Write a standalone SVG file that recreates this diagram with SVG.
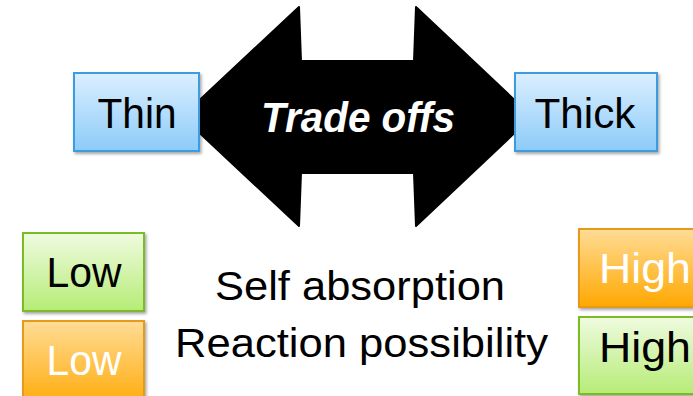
<svg xmlns="http://www.w3.org/2000/svg" width="693" height="396" viewBox="0 0 693 396">
<defs>
<linearGradient id="gBlue" x1="0" y1="0" x2="0" y2="1"><stop offset="0" stop-color="#dcefff"/><stop offset="1" stop-color="#8ccbf9"/></linearGradient>
<linearGradient id="gGreen" x1="0" y1="0" x2="0" y2="1"><stop offset="0" stop-color="#effbe0"/><stop offset="1" stop-color="#b6ec76"/></linearGradient>
<linearGradient id="gOrange" x1="0" y1="0" x2="0" y2="1"><stop offset="0" stop-color="#ffdc96"/><stop offset="1" stop-color="#ffa800"/></linearGradient>
<filter id="sh" x="-10%" y="-10%" width="130%" height="130%"><feDropShadow dx="1.5" dy="2" stdDeviation="1.5" flood-color="#000" flood-opacity="0.35"/></filter>
<style>
.txt{font-family:"Liberation Sans","Noto Sans",sans-serif;}
.blue{fill:url(#gBlue);stroke:#3c9be0;stroke-width:2;filter:url(#sh);}
.green{fill:url(#gGreen);stroke:#7dbb28;stroke-width:2;filter:url(#sh);}
.orange{fill:url(#gOrange);stroke:#e69a1e;stroke-width:2;filter:url(#sh);}
.lbl{font-size:43px;fill:#000;text-anchor:middle;}
.wlbl{font-size:43px;fill:#fff;text-anchor:middle;}
.mid{font-size:41px;fill:#000;text-anchor:middle;}
</style>
</defs>
<g id="connectors">
<path id="arrow" d="M182,116.5 L299,7 L301,61 L414,61 L416,7 L532,116.5 L416,226 L414,173 L301,173 L299,226 Z" fill="#000" stroke="#000" stroke-width="2" stroke-linejoin="round"/>
<text class="txt" x="358" y="132" font-size="42" font-weight="bold" font-style="italic" fill="#fff" text-anchor="middle" textLength="194" lengthAdjust="spacingAndGlyphs">Trade offs</text>
</g>
<g id="thin"><rect class="blue" x="74" y="73" width="125" height="78"/><text class="txt lbl" x="137" y="128" textLength="79" lengthAdjust="spacingAndGlyphs">Thin</text></g>
<g id="thick"><rect class="blue" x="515" y="73" width="142" height="78"/><text class="txt lbl" x="585" y="128" textLength="101" lengthAdjust="spacingAndGlyphs">Thick</text></g>
<g id="low1"><rect class="green" x="23" y="233" width="121" height="78"/><text class="txt lbl" x="84" y="287" textLength="75" lengthAdjust="spacingAndGlyphs">Low</text></g>
<g id="low2"><rect class="orange" x="23" y="321" width="121" height="90"/><text class="txt wlbl" x="84" y="375" textLength="75" lengthAdjust="spacingAndGlyphs">Low</text></g>
<g id="high1"><rect class="orange" x="579" y="229" width="130" height="78"/><text class="txt wlbl" x="599" y="283" style="text-anchor:start" textLength="92" lengthAdjust="spacingAndGlyphs">High</text></g>
<g id="high2"><rect class="green" x="579" y="317" width="130" height="77"/><text class="txt lbl" x="599" y="362" style="text-anchor:start" textLength="92" lengthAdjust="spacingAndGlyphs">High</text></g>
<g id="labels">
<text class="txt mid" x="360" y="300" textLength="290" lengthAdjust="spacingAndGlyphs">Self absorption</text>
<text class="txt mid" x="361.5" y="357" textLength="373" lengthAdjust="spacingAndGlyphs">Reaction possibility</text>
</g>
</svg>
